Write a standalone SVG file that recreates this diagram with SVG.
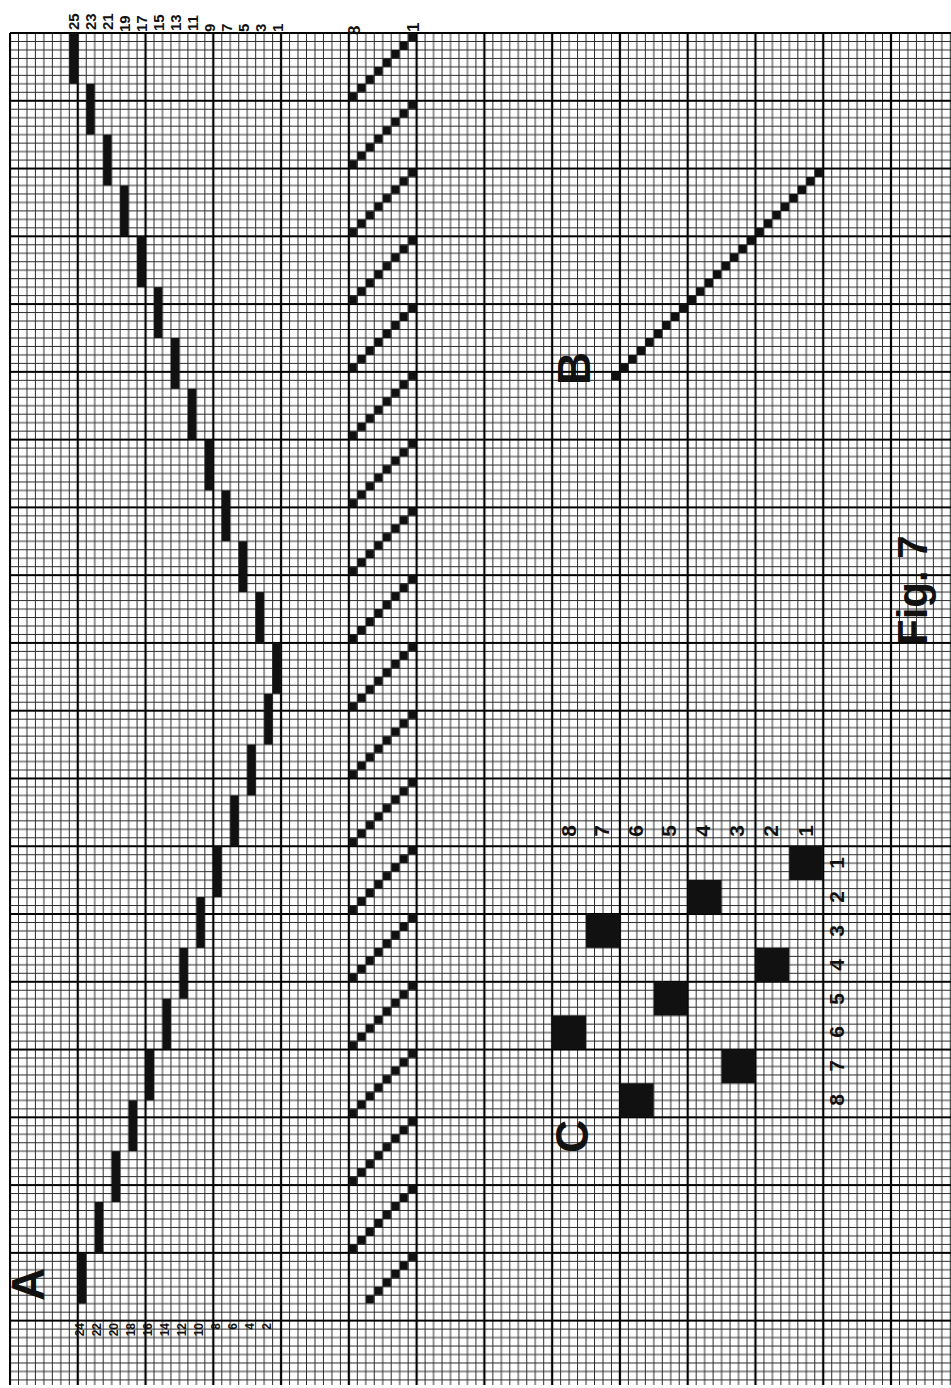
<svg xmlns="http://www.w3.org/2000/svg" width="951" height="1388" viewBox="0 0 951 1388">
<style>
.lbl{font-family:"Liberation Sans",Arial,sans-serif;font-weight:bold;fill:#111}
.sm{font-size:15px}
.xs{font-size:12px}
.md{font-size:21px}
.big{font-size:46px}
.ink{fill:#111}
</style>
<defs>
<pattern id="grid" patternUnits="userSpaceOnUse" x="10" y="33" width="67.77" height="67.77">
<path d="M8.47,0V67.77M16.94,0V67.77M25.41,0V67.77M33.89,0V67.77M42.36,0V67.77M50.83,0V67.77M59.30,0V67.77M0,8.47H67.77M0,16.94H67.77M0,25.41H67.77M0,33.89H67.77M0,42.36H67.77M0,50.83H67.77M0,59.30H67.77" stroke="#2b2b2b" stroke-width="1" fill="none"/>
<path d="M0,0V67.77M67.77,0V67.77M0,0H67.77M0,67.77H67.77" stroke="#000" stroke-width="2.2" fill="none"/>
</pattern>
<pattern id="thr" patternUnits="userSpaceOnUse" x="348.8" y="33" width="67.77" height="67.77">
<path class="ink" d="M59.30,0h8.47v8.47h-8.47zM50.83,8.47h8.47v8.47h-8.47zM42.36,16.94h8.47v8.47h-8.47zM33.89,25.41h8.47v8.47h-8.47zM25.41,33.89h8.47v8.47h-8.47zM16.94,42.36h8.47v8.47h-8.47zM8.47,50.83h8.47v8.47h-8.47zM0,59.30h8.47v8.47h-8.47z"/>
</pattern>
</defs>
<rect width="951" height="1388" fill="#fff"/>
<g id="paper">
<rect x="10" y="33" width="941" height="1352" fill="url(#grid)"/>
<path d="M10,33H951M10,33V1385" stroke="#000" stroke-width="2" fill="none"/>
</g>
<g id="draft-A">
<g class="ink">
<rect x="69.30" y="33" width="8.47" height="50.83"/>
<rect x="86.24" y="83.83" width="8.47" height="50.83"/>
<rect x="103.18" y="134.65" width="8.47" height="50.83"/>
<rect x="120.12" y="185.48" width="8.47" height="50.83"/>
<rect x="137.06" y="236.30" width="8.47" height="50.83"/>
<rect x="154.01" y="287.13" width="8.47" height="50.83"/>
<rect x="170.95" y="337.96" width="8.47" height="50.83"/>
<rect x="187.89" y="388.78" width="8.47" height="50.83"/>
<rect x="204.83" y="439.61" width="8.47" height="50.83"/>
<rect x="221.77" y="490.43" width="8.47" height="50.83"/>
<rect x="238.72" y="541.26" width="8.47" height="50.83"/>
<rect x="255.66" y="592.09" width="8.47" height="50.83"/>
<rect x="272.60" y="642.91" width="8.47" height="50.83"/>
<rect x="264.13" y="693.74" width="8.47" height="50.83"/>
<rect x="247.19" y="744.56" width="8.47" height="50.83"/>
<rect x="230.24" y="795.39" width="8.47" height="50.83"/>
<rect x="213.30" y="846.22" width="8.47" height="50.83"/>
<rect x="196.36" y="897.04" width="8.47" height="50.83"/>
<rect x="179.42" y="947.87" width="8.47" height="50.83"/>
<rect x="162.48" y="998.69" width="8.47" height="50.83"/>
<rect x="145.54" y="1049.52" width="8.47" height="50.83"/>
<rect x="128.59" y="1100.35" width="8.47" height="50.83"/>
<rect x="111.65" y="1151.17" width="8.47" height="50.83"/>
<rect x="94.71" y="1202.00" width="8.47" height="50.83"/>
<rect x="77.77" y="1252.82" width="8.47" height="50.83"/>
</g>
<g class="lbl sm">
<text transform="translate(79,30) rotate(-90)">25</text>
<text transform="translate(96,30) rotate(-90)">23</text>
<text transform="translate(113,30) rotate(-90)">21</text>
<text transform="translate(130,32) rotate(-90)">19</text>
<text transform="translate(147,32) rotate(-90)">17</text>
<text transform="translate(164,31) rotate(-90)">15</text>
<text transform="translate(181,31) rotate(-90)">13</text>
<text transform="translate(198,31) rotate(-90)">11</text>
<text transform="translate(214.5,32) rotate(-90)">9</text>
<text transform="translate(231.5,32) rotate(-90)">7</text>
<text transform="translate(248.5,32) rotate(-90)">5</text>
<text transform="translate(265.5,32) rotate(-90)">3</text>
<text transform="translate(282.5,32) rotate(-90)">1</text>
</g>
<g class="lbl xs" text-anchor="end">
<text transform="translate(83.5,1323) rotate(-90)">24</text>
<text transform="translate(100.5,1323) rotate(-90)">22</text>
<text transform="translate(117.5,1323) rotate(-90)">20</text>
<text transform="translate(134.5,1323) rotate(-90)">18</text>
<text transform="translate(151.5,1323) rotate(-90)">16</text>
<text transform="translate(168.5,1323) rotate(-90)">14</text>
<text transform="translate(185.5,1323) rotate(-90)">12</text>
<text transform="translate(202.5,1323) rotate(-90)">10</text>
<text transform="translate(219.5,1323) rotate(-90)">8</text>
<text transform="translate(236.5,1323) rotate(-90)">6</text>
<text transform="translate(253.5,1323) rotate(-90)">4</text>
<text transform="translate(270.5,1323) rotate(-90)">2</text>
</g>
<text class="lbl big" transform="translate(44,1301) rotate(-90)">A</text>
</g>
<g id="threading">
<rect x="348.8" y="33" width="67.77" height="1270.65" fill="url(#thr)"/>
<text class="lbl" font-size="17" transform="translate(359.5,35) rotate(-90)">8</text>
<text class="lbl" font-size="17" transform="translate(419,32) rotate(-90)">1</text>
</g>
<g id="draft-B">
<path class="ink" d="M814.63,168.54h8.47v8.47h-8.47zm-8.471,8.471h8.47v8.47h-8.47zm-8.471,8.471h8.47v8.47h-8.47zm-8.471,8.471h8.47v8.47h-8.47zm-8.471,8.471h8.47v8.47h-8.47zm-8.471,8.471h8.47v8.47h-8.47zm-8.471,8.471h8.47v8.47h-8.47zm-8.471,8.471h8.47v8.47h-8.47zm-8.471,8.471h8.47v8.47h-8.47zm-8.471,8.471h8.47v8.47h-8.47zm-8.471,8.471h8.47v8.47h-8.47zm-8.471,8.471h8.47v8.47h-8.47zm-8.471,8.471h8.47v8.47h-8.47zm-8.471,8.471h8.47v8.47h-8.47zm-8.471,8.471h8.47v8.47h-8.47zm-8.471,8.471h8.47v8.47h-8.47zm-8.471,8.471h8.47v8.47h-8.47zm-8.471,8.471h8.47v8.47h-8.47zm-8.471,8.471h8.47v8.47h-8.47zm-8.471,8.471h8.47v8.47h-8.47zm-8.471,8.471h8.47v8.47h-8.47zm-8.471,8.471h8.47v8.47h-8.47zm-8.471,8.471h8.47v8.47h-8.47zm-8.471,8.471h8.47v8.47h-8.47zm-8.471,8.471h8.47v8.47h-8.47z"/>
<text class="lbl big" transform="translate(590,385) rotate(-90)">B</text>
</g>
<g id="draft-C">
<g class="ink">
<rect x="789.2" y="846.1" width="33.88" height="33.88"/>
<rect x="687.6" y="880.0" width="33.88" height="33.88"/>
<rect x="585.9" y="913.9" width="33.88" height="33.88"/>
<rect x="755.3" y="947.8" width="33.88" height="33.88"/>
<rect x="653.7" y="981.6" width="33.88" height="33.88"/>
<rect x="552.1" y="1015.5" width="33.88" height="33.88"/>
<rect x="721.5" y="1049.4" width="33.88" height="33.88"/>
<rect x="619.8" y="1083.3" width="33.88" height="33.88"/>
</g>
<g class="lbl md" text-anchor="middle">
<text transform="translate(576,831) rotate(-90)">8</text>
<text transform="translate(609,831) rotate(-90)">7</text>
<text transform="translate(643,831) rotate(-90)">6</text>
<text transform="translate(676,831) rotate(-90)">5</text>
<text transform="translate(710,831) rotate(-90)">4</text>
<text transform="translate(744,831) rotate(-90)">3</text>
<text transform="translate(778,831) rotate(-90)">2</text>
<text transform="translate(813,831) rotate(-90)">1</text>
<text transform="translate(844,863) rotate(-90)">1</text>
<text transform="translate(844,897) rotate(-90)">2</text>
<text transform="translate(844,931) rotate(-90)">3</text>
<text transform="translate(844,965) rotate(-90)">4</text>
<text transform="translate(844,999) rotate(-90)">5</text>
<text transform="translate(844,1032) rotate(-90)">6</text>
<text transform="translate(844,1066) rotate(-90)">7</text>
<text transform="translate(844,1100) rotate(-90)">8</text>
</g>
<text class="lbl big" transform="translate(588,1153) rotate(-90)">C</text>
</g>
<text id="caption" class="lbl" font-size="42" transform="translate(927,645) rotate(-90)">Fig. 7</text>
</svg>
